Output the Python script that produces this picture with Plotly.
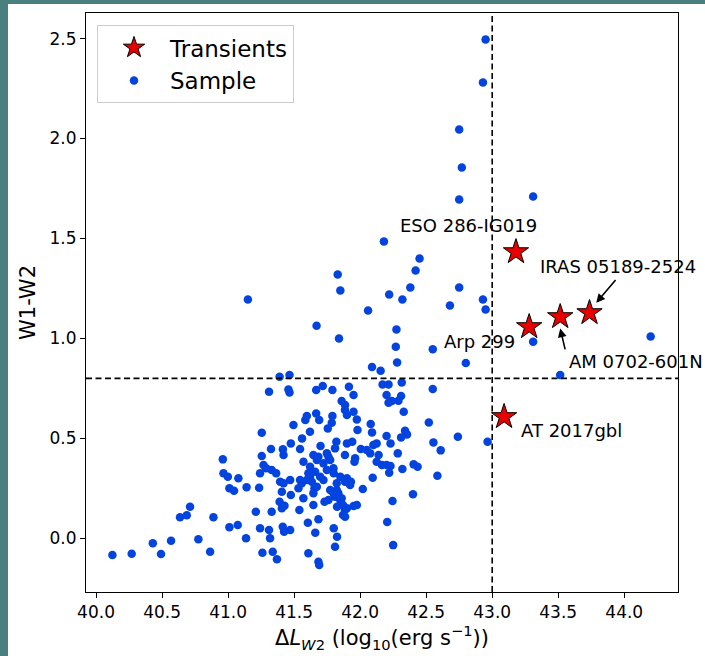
import plotly.graph_objects as go

# ---------------- data ----------------
sample_x = [42.95, 42.93, 42.75, 42.77, 42.75, 43.31, 42.18, 42.45, 42.42, 41.83,
            42.38, 42.75, 41.15, 41.85, 42.22, 42.32, 42.93, 42.06, 42.68, 42.95,
            41.67, 42.275, 41.84, 43.31, 44.20, 43.515, 42.27, 42.55, 42.28, 42.80,
            42.09, 42.155, 42.17, 42.215, 42.315, 41.79, 41.915, 41.95, 42.20, 42.31,
            42.55, 42.215, 42.24, 42.29, 41.86, 41.885, 41.90, 41.95, 42.33, 41.975,
            42.52, 41.79, 41.785, 42.08, 41.98, 42.09, 42.20, 42.34, 42.355, 42.31,
            42.74, 42.965, 42.555, 42.61, 41.82, 41.90, 41.94, 41.81, 41.885, 42.005,
            42.05, 42.10, 42.125, 42.14, 42.125, 42.165, 42.20, 42.23, 42.22, 42.285,
            42.32, 42.405, 42.435, 42.585, 42.095, 42.02, 42.40, 42.245, 42.205, 42.25,
            41.835, 41.81, 41.85, 41.825, 41.885, 41.87, 41.95, 41.975, 41.80, 41.825,
            41.81, 41.39, 41.465, 41.31, 41.457, 41.465, 41.667, 41.717, 41.596, 41.667,
            41.69, 41.585, 41.495, 41.755, 41.62, 41.255, 41.56, 41.475, 41.70, 41.325,
            41.415, 41.42, 41.545, 41.255, 41.646, 41.684, 41.748, 41.76, 41.962, 41.957,
            42.076, 40.96, 40.965, 40.998, 41.078, 41.01, 41.045, 41.14, 41.235, 41.268,
            41.288, 41.242, 41.33, 41.364, 41.394, 41.42, 41.407, 41.475, 41.47, 41.533,
            41.558, 41.57, 41.39, 41.407, 41.427, 41.54, 41.646, 41.73, 41.76, 41.646,
            41.654, 41.596, 41.62, 41.773, 41.798, 41.823, 41.86, 41.90, 41.886, 41.90,
            41.93, 41.21, 41.33, 41.242, 41.31, 41.318, 41.414, 41.47, 41.136, 41.604,
            41.684, 41.66, 41.608, 41.684, 41.69, 41.26, 41.338, 41.37, 40.864, 40.775,
            40.889, 40.712, 40.636, 40.687, 40.568, 40.43, 40.492, 40.27, 40.124, 41.01,
            41.073, 41.571, 41.621, 41.672, 41.722, 41.608, 41.659, 41.697, 41.748, 41.545,
            41.634, 41.722, 41.672, 41.773, 41.798, 41.886, 41.87, 41.424, 42.23, 41.80,
            41.85, 41.823, 41.886, 41.924]
sample_y = [2.495, 2.28, 2.045, 1.855, 1.695, 1.71, 1.485, 1.40, 1.34, 1.32,
            1.255, 1.255, 1.195, 1.24, 1.22, 1.195, 1.195, 1.14, 1.165, 1.145,
            1.063, 1.045, 1.00, 0.983, 1.01, 0.817, 0.958, 0.946, 0.88, 0.877,
            0.857, 0.838, 0.77, 0.77, 0.78, 0.742, 0.758, 0.717, 0.717, 0.712,
            0.747, 0.678, 0.687, 0.688, 0.687, 0.642, 0.617, 0.633, 0.633, 0.595,
            0.58, 0.612, 0.578, 0.572, 0.542, 0.53, 0.512, 0.538, 0.52, 0.505,
            0.508, 0.483, 0.48, 0.44, 0.483, 0.475, 0.483, 0.45, 0.417, 0.447,
            0.442, 0.467, 0.475, 0.417, 0.383, 0.367, 0.367, 0.362, 0.328, 0.425,
            0.347, 0.37, 0.358, 0.313, 0.303, 0.247, 0.22, 0.187, 0.082, -0.034,
            0.225, 0.208, 0.19, 0.158, 0.142, 0.117, 0.162, 0.167, 0.05, 0.008,
            -0.042, 0.808, 0.817, 0.733, 0.745, 0.729, 0.742, 0.762, 0.612, 0.625,
            0.592, 0.592, 0.567, 0.55, 0.533, 0.528, 0.50, 0.475, 0.462, 0.447,
            0.445, 0.417, 0.447, 0.412, 0.417, 0.408, 0.425, 0.408, 0.40, 0.383,
            0.425, 0.395, 0.325, 0.308, 0.30, 0.25, 0.238, 0.255, 0.253, 0.367,
            0.35, 0.325, 0.342, 0.325, 0.283, 0.275, 0.233, 0.217, 0.292, 0.25,
            0.275, 0.20, 0.183, 0.15, 0.163, 0.142, 0.167, 0.183, 0.192, 0.225,
            0.25, 0.292, 0.308, 0.242, 0.225, 0.242, 0.20, 0.15, 0.108, 0.30,
            0.283, 0.133, 0.133, 0.05, 0.042, 0.0, 0.058, 0.042, 0.0, 0.078,
            0.095, 0.028, -0.075, -0.117, -0.133, -0.072, -0.067, -0.105, -0.067, -0.005,
            0.105, 0.158, 0.105, 0.115, -0.012, -0.025, -0.0785, -0.077, -0.0835, 0.056,
            0.067, 0.383, 0.358, 0.392, 0.375, 0.325, 0.333, 0.308, 0.342, 0.292,
            0.283, 0.292, 0.258, 0.392, 0.35, 0.667, 0.167, 0.033, 0.475, 0.325,
            0.308, 0.275, 0.283, 0.267]

transient_names = ["ESO 286-IG019", "Arp 299", "AM 0702-601N", "IRAS 05189-2524", "AT 2017gbl"]
transient_x = [43.18, 43.28, 43.515, 43.737, 43.09]
transient_y = [1.433, 1.058, 1.108, 1.128, 0.608]

lum_cut = 43.0
color_cut = 0.8

x_ticks = [40.0, 40.5, 41.0, 41.5, 42.0, 42.5, 43.0, 43.5, 44.0]
y_ticks = [0.0, 0.5, 1.0, 1.5, 2.0, 2.5]

# ---------------- figure ----------------
FONT = "DejaVu Sans"
BLUE = "#0343df"
RED = "#e60000"

fig = go.Figure()
fig.add_trace(go.Scatter(
    x=sample_x, y=sample_y, mode="markers", name="Sample",
    marker=dict(symbol="circle", size=8.5, color=BLUE, line=dict(width=0)),
))
fig.add_trace(go.Scatter(
    x=transient_x, y=transient_y, mode="markers", name="Transients",
    marker=dict(symbol="star", size=19, color=RED, line=dict(color="black", width=1)),
))

# threshold lines
fig.add_shape(type="line", xref="x", yref="paper", x0=lum_cut, x1=lum_cut, y0=0, y1=1,
              line=dict(color="black", width=1.6, dash="6px,3.5px"))
fig.add_shape(type="line", xref="paper", yref="y", x0=0, x1=1, y0=color_cut, y1=color_cut,
              line=dict(color="black", width=1.6, dash="6px,3.5px"))

# labels for transients
label_specs = {
    "ESO 286-IG019": dict(x=42.818, y=1.5665, xanchor="center"),
    "IRAS 05189-2524": dict(x=43.346, y=1.358, xanchor="left"),
    "Arp 299": dict(x=43.187, y=0.983, xanchor="right"),
    "AM 0702-601N": dict(x=43.566, y=0.883, xanchor="left"),
    "AT 2017gbl": dict(x=43.20, y=0.538, xanchor="left"),
}
for name, spec in label_specs.items():
    fig.add_annotation(x=spec["x"], y=spec["y"], xref="x", yref="y", text=name,
                       showarrow=False, xanchor=spec["xanchor"], yanchor="middle",
                       font=dict(family=FONT, size=18, color="black"))

# arrows
arrows = [
    dict(x=43.788, y=1.178, ax=43.944, ay=1.30),
    dict(x=43.515, y=1.05, ax=43.555, ay=0.938),
]
for a in arrows:
    fig.add_annotation(x=a["x"], y=a["y"], ax=a["ax"], ay=a["ay"], xref="x", yref="y",
                       axref="x", ayref="y", text="", showarrow=True, arrowhead=2,
                       arrowsize=1.1, arrowwidth=1.6, arrowcolor="black")

# teal border strips (outside the axes)
PW = 705 - 86 - 27
PH = 656 - 13 - 64
TEAL = "#4a7f80"
fig.add_shape(type="rect", xref="paper", yref="paper", layer="above",
              x0=-86 / PW, x1=(8 - 86) / PW, y0=-64 / PH, y1=(PH + 13) / PH,
              fillcolor=TEAL, line=dict(width=0))
fig.add_shape(type="rect", xref="paper", yref="paper", layer="above",
              x0=-86 / PW, x1=(705 - 86) / PW, y0=(PH + 9) / PH, y1=(PH + 13) / PH,
              fillcolor=TEAL, line=dict(width=0))

axis_common = dict(
    showgrid=False, zeroline=False, showline=True, linecolor="black", linewidth=1,
    mirror=True, ticks="outside", ticklen=5, tickwidth=1, tickcolor="black",
    tickfont=dict(family=FONT, size=17, color="black"), tickformat=".1f",
)

fig.update_layout(
    width=705, height=656, autosize=False,
    margin=dict(l=86, r=27, t=13, b=64),
    paper_bgcolor="white", plot_bgcolor="white",
    font=dict(family=FONT, color="black"),
    xaxis=dict(range=[39.924, 44.407], tickvals=x_ticks,
               title=dict(text="Δ<i>L</i><sub><i>W</i>2</sub> (log<sub>10</sub>(erg s<sup>−1</sup>))",
                          font=dict(family=FONT, size=21), standoff=6),
               **axis_common),
    yaxis=dict(range=[-0.2685, 2.628], tickvals=y_ticks,
               title=dict(text="W1-W2", font=dict(family=FONT, size=21), standoff=8),
               **axis_common),
    legend=dict(x=0.0186, y=0.979, xanchor="left", yanchor="top",
                bgcolor="white", bordercolor="#cccccc", borderwidth=1,
                font=dict(family=FONT, size=23), traceorder="reversed",
                itemsizing="trace", itemwidth=62),
    showlegend=True,
)

fig.write_html("out.html")
